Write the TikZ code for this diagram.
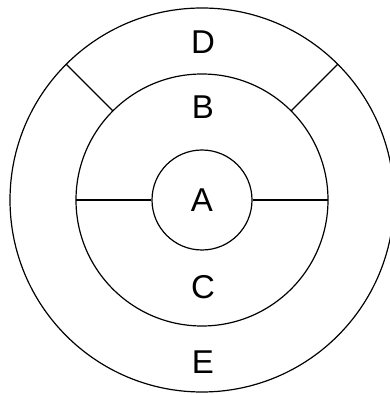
\documentclass[tikz,border=0pt]{standalone}
\usepackage{fontspec}
\setmainfont{Liberation Sans}
\begin{document}
\begin{tikzpicture}[x=1pt, y=1pt, line width=1.2pt,
    lbl/.style={font=\fontsize{33}{33}\selectfont, inner sep=0pt}]
    \useasboundingbox (0,0) rectangle (390,394);
    \coordinate (o) at (202,194);
    % rings
    \draw (o) circle[radius=192];
    \draw (o) circle[radius=126];
    \node[circle, draw, minimum size=100pt, lbl] (A) at (o) {A};
    % dividers
    \draw (A.west) -- ([shift={(180:126)}]o);
    \draw (A.east) -- ([shift={(0:126)}]o);
    \draw ([shift={(135:126)}]o) -- ([shift={(135:192)}]o);
    \draw ([shift={(45:126)}]o) -- ([shift={(45:192)}]o);
    % labels
    \node[lbl] (D) at (203,352) {D};
    \node[lbl] (B) at (203,287) {B};
    \node[lbl] (C) at (203,107) {C};
    \node[lbl] (E) at (203,32) {E};
\end{tikzpicture}
\end{document}
